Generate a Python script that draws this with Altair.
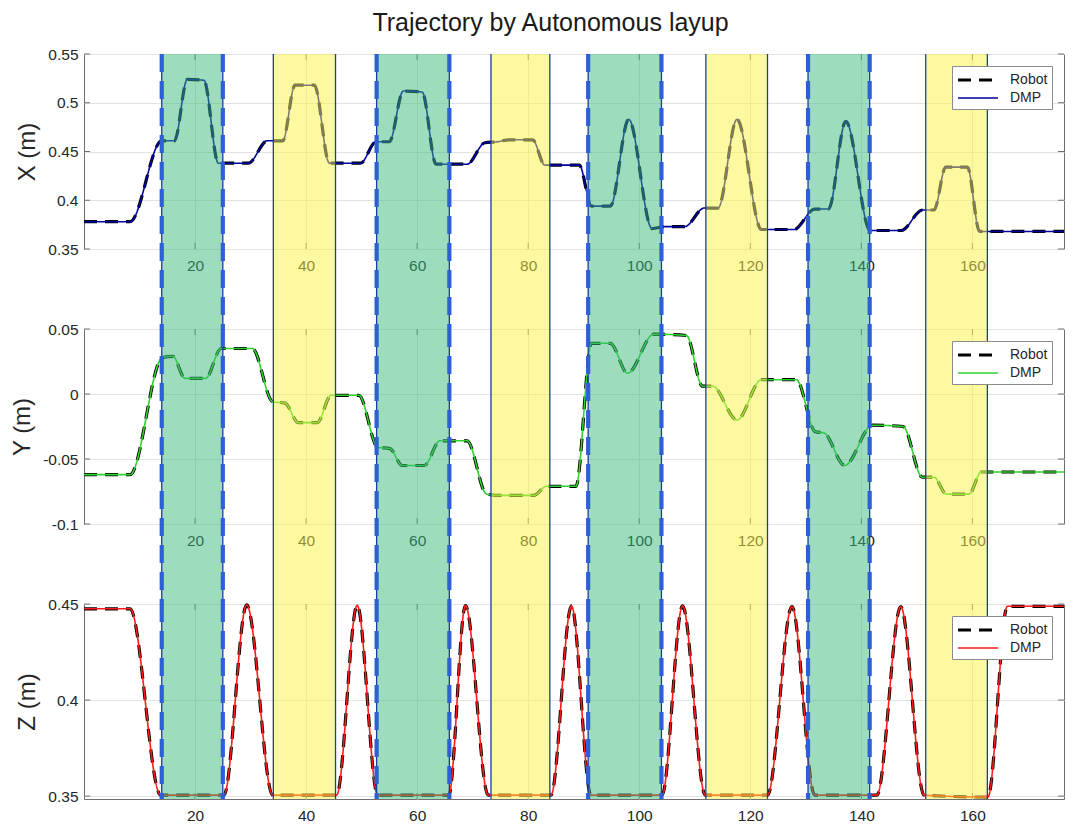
import altair as alt
import pandas as pd

T_END = 176.5

# X trajectory (m) - corner points (time, value)
X_T = [0, 8.3, 14.0, 16.3, 18.6, 21.6, 24.2, 29.6, 33.0, 35.8,
       38.0, 41.5, 44.2, 49.8, 52.6, 55.0, 57.5, 60.9, 63.4, 69.0,
       72.2, 74.5, 76.5, 80.8, 83.0, 89.2, 91.4, 94.8, 98.1, 102.3,
       104.8, 108.2, 111.7, 114.2, 117.6, 122.0, 127.9, 131.6, 134.1, 137.2,
       141.6, 147.2, 151.0, 153.1, 155.2, 159.1, 161.3, 176.5]
X_V = [0.378, 0.378, 0.461, 0.461, 0.524, 0.523, 0.438, 0.438, 0.461, 0.461,
       0.518, 0.518, 0.438, 0.438, 0.460, 0.460, 0.512, 0.511, 0.437, 0.437,
       0.459, 0.460, 0.462, 0.462, 0.436, 0.436, 0.394, 0.394, 0.483, 0.371,
       0.373, 0.373, 0.392, 0.392, 0.483, 0.370, 0.370, 0.391, 0.391, 0.481,
       0.369, 0.369, 0.390, 0.390, 0.434, 0.434, 0.368, 0.368]

# Y trajectory (m)
Y_T = [0, 8.3, 14.1, 16.0, 18.2, 21.9, 24.7, 30.3, 34.0, 36.2,
       38.6, 42.0, 44.5, 49.5, 52.9, 55.1, 57.3, 61.3, 64.1, 69.0,
       72.5, 75.0, 81.0, 83.3, 88.6, 91.4, 94.8, 97.9, 102.6, 108.5,
       111.4, 113.2, 117.6, 122.0, 128.3, 131.7, 133.3, 137.0, 142.0, 147.5,
       151.0, 153.1, 155.3, 159.4, 161.6, 176.5]
Y_V = [-0.062, -0.062, 0.028, 0.029, 0.012, 0.012, 0.035, 0.035, -0.006, -0.007,
       -0.022, -0.022, -0.001, -0.001, -0.041, -0.042, -0.055, -0.055, -0.036, -0.036,
       -0.077, -0.078, -0.078, -0.071, -0.071, 0.039, 0.039, 0.016, 0.046, 0.045,
       0.006, 0.006, -0.020, 0.011, 0.011, -0.029, -0.030, -0.055, -0.024, -0.025,
       -0.064, -0.064, -0.077, -0.077, -0.060, -0.060]

# Z trajectory (m)
Z_T = [0, 8.3, 13.8, 25.2, 29.3, 34.0, 45.5, 49.2, 52.9, 65.7,
       68.7, 72.8, 84.1, 87.8, 91.3, 104.1, 107.8, 111.9, 123.1, 127.5,
       131.6, 142.8, 147.1, 151.3, 162.8, 166.3, 176.5]
Z_V = [0.4475, 0.4475, 0.3505, 0.3505, 0.4495, 0.3505, 0.3505, 0.4493, 0.3505, 0.3505,
       0.4492, 0.3505, 0.3505, 0.4490, 0.3505, 0.3505, 0.4490, 0.3505, 0.3505, 0.4487,
       0.3505, 0.3505, 0.4486, 0.3505, 0.3495, 0.4488, 0.4488]

# shaded phases
GREEN_START = [14.0, 52.7, 90.8, 130.4]
GREEN_END = [25.0, 65.8, 104.0, 141.5]
YELLOW_START = [34.1, 73.3, 112.0, 151.6]
YELLOW_END = [45.3, 83.9, 123.1, 162.7]

X_TICKS = [20, 40, 60, 80, 100, 120, 140, 160]
SERIES = ["Robot", "DMP"]

W, H, GAP = 980, 195, 80
TICK_LEN = 6
FONT = "Liberation Sans"
TXT = "#262626"
FRAME = "#6e6e6e"

XS = alt.Scale(domain=[0, T_END], nice=False, zero=False)
X_AXIS = alt.Axis(values=X_TICKS, title=None, grid=True, domain=False, ticks=False,
                  labelPadding=9, labelFontSize=15.5, format="d")
LABEL_EXPR = "datum.value < 0 ? '-' + format(-datum.value, '~g') : format(datum.value, '~g')"


def panel(t, v, title, domain, ticks, dmp_color, ext):
    n = len(t)
    df = pd.DataFrame({"t": list(t) * 2, "v": list(v) * 2,
                       "series": ["Robot"] * n + ["DMP"] * n})
    leg = alt.Legend(title=None, orient="top-right", offset=12, padding=4,
                     strokeColor="#8c8c8c", fillColor="white", labelFont=FONT,
                     labelFontSize=14, labelColor=TXT, symbolType="M-2.5,0L2.5,0",
                     symbolSize=256, symbolOffset=12, labelOffset=22, rowPadding=2)
    ys = alt.Scale(domain=domain, nice=False, zero=False)
    y_axis = alt.Axis(values=ticks, title=title, grid=True, domain=False,
                      ticks=False, labelFontSize=15.5, labelPadding=6,
                      titleFontSize=24, titlePadding=8, labelExpr=LABEL_EXPR)
    enc = dict(
        x=alt.X("t:Q", scale=XS, axis=X_AXIS),
        y=alt.Y("v:Q", scale=ys, axis=y_axis),
        color=alt.Color("series:N", scale=alt.Scale(domain=SERIES, range=["#000000", dmp_color]),
                        legend=leg),
        strokeDash=alt.StrokeDash("series:N", scale=alt.Scale(domain=SERIES, range=[[13, 8], [1, 0]]),
                                  legend=leg),
        strokeWidth=alt.StrokeWidth("series:N", scale=alt.Scale(domain=SERIES, range=[3.2, 1.6]),
                                    legend=leg),
    )
    base = alt.Chart(df).mark_line(interpolate="monotone").encode(**enc)
    robot = base.transform_filter("datum.series == 'Robot'")
    dmp = base.transform_filter("datum.series == 'DMP'")

    # inward tick marks on all four sides (box on)
    xt = pd.DataFrame({"s": X_TICKS})
    yt = pd.DataFrame({"v": ticks})
    xtick_b = alt.Chart(xt).mark_rule(color=FRAME, strokeWidth=1).encode(
        x=alt.X("s:Q", scale=XS, axis=X_AXIS), y=alt.value(H - TICK_LEN), y2=alt.value(H))
    xtick_t = alt.Chart(xt).mark_rule(color=FRAME, strokeWidth=1).encode(
        x=alt.X("s:Q", scale=XS, axis=X_AXIS), y=alt.value(0), y2=alt.value(TICK_LEN))
    ytick_l = alt.Chart(yt).mark_rule(color=FRAME, strokeWidth=1).encode(
        y=alt.Y("v:Q", scale=ys, axis=y_axis), x=alt.value(0), x2=alt.value(TICK_LEN))
    ytick_r = alt.Chart(yt).mark_rule(color=FRAME, strokeWidth=1).encode(
        y=alt.Y("v:Q", scale=ys, axis=y_axis), x=alt.value(W - TICK_LEN), x2=alt.value(W))

    gdf = pd.DataFrame({"s": GREEN_START, "e": GREEN_END})
    ydf = pd.DataFrame({"s": YELLOW_START, "e": YELLOW_END})
    green = alt.Chart(gdf).mark_rect(color="#3cb97a", opacity=0.5).encode(
        x=alt.X("s:Q", scale=XS, axis=X_AXIS), x2="e:Q",
        y=alt.value(0), y2=alt.value(H + ext))
    yellow = alt.Chart(ydf).mark_rect(color="#fbf443", opacity=0.5).encode(
        x=alt.X("s:Q", scale=XS, axis=X_AXIS), x2="e:Q",
        y=alt.value(0), y2=alt.value(H + ext))
    edf = pd.DataFrame({"s": GREEN_START + GREEN_END + YELLOW_START + YELLOW_END})
    thin = alt.Chart(edf).mark_rule(color="#1c3aa6", strokeWidth=1.3).encode(
        x=alt.X("s:Q", scale=XS, axis=X_AXIS), y=alt.value(0), y2=alt.value(H + ext))
    gedf = pd.DataFrame({"s": GREEN_START + GREEN_END})
    dashed = alt.Chart(gedf).mark_rule(color="#2d5fd6", strokeWidth=4.2,
                                       strokeDash=[18, 9]).encode(
        x=alt.X("s:Q", scale=XS, axis=X_AXIS), y=alt.value(0), y2=alt.value(H + ext))

    return alt.layer(robot, dmp, xtick_b, xtick_t, ytick_l, ytick_r,
                     green, yellow, thin, dashed).properties(width=W, height=H)


p1 = panel(X_T, X_V, "X (m)", [0.35, 0.55], [0.35, 0.4, 0.45, 0.5, 0.55], "#0000a0", GAP)
p2 = panel(Y_T, Y_V, "Y (m)", [-0.1, 0.05], [-0.1, -0.05, 0, 0.05], "#2fd12f", GAP)
p3 = panel(Z_T, Z_V, "Z (m)", [0.3485, 0.45], [0.35, 0.4, 0.45], "#ff1a1a", 0)

chart = alt.vconcat(p1, p2, p3, spacing=GAP, bounds="flush").resolve_scale(
    color="independent", strokeDash="independent", strokeWidth="independent"
).resolve_legend(
    color="independent", strokeDash="independent", strokeWidth="independent"
).properties(
    title=alt.TitleParams("Trajectory by Autonomous layup", fontSize=25, font=FONT,
                          fontWeight="normal", color="#1a1a1a", anchor="middle",
                          offset=11, dx=10),
    padding={"left": 2, "top": 2, "right": 5, "bottom": 5},
    background="white",
).configure_view(stroke=FRAME, strokeWidth=1).configure_axis(
    gridColor="#e3e3e3", gridWidth=1, labelFont=FONT, titleFont=FONT,
    labelColor=TXT, titleColor=TXT, titleFontWeight="normal"
)

chart.save("out.html", embed_options={"renderer": "svg", "actions": False})
